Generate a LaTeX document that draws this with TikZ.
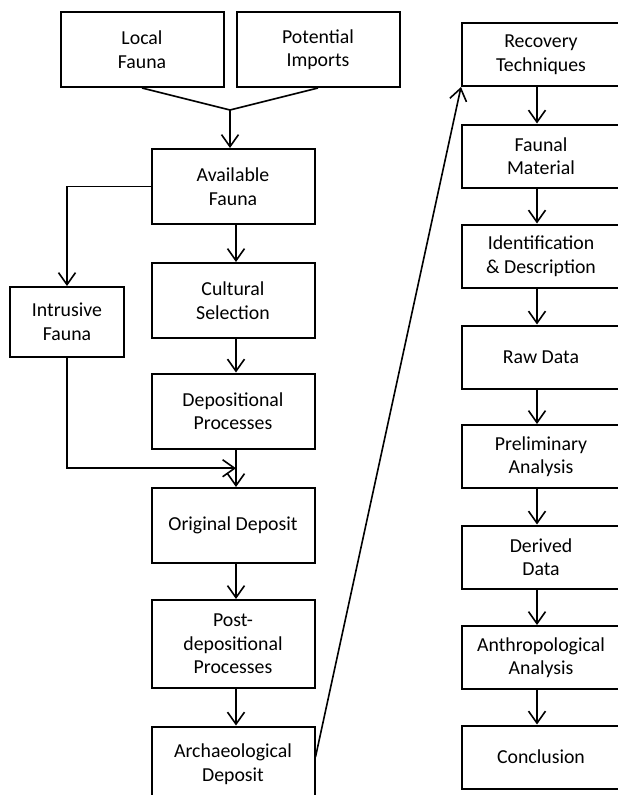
\documentclass[tikz,border=0pt]{standalone}
\usepackage{fontspec}
\setmainfont{Carlito}
\usetikzlibrary{arrows.meta,calc}

\tikzset{
  stage/.style={draw, line width=2pt, align=center, inner sep=0pt,
    minimum width=163pt, minimum height=75pt,
    font=\fontsize{19.8}{23.5}\selectfont},
  labstage/.style={stage, minimum width=158pt, minimum height=63pt},
  flow/.style={line width=1.6pt, -{Straight Barb[length=12pt,width=17pt]}},
  leftflow/.style={flow, transform canvas={xshift=3pt}},
  labflow/.style={flow, transform canvas={xshift=-4pt}},
}

\begin{document}
\begin{tikzpicture}[x=1pt,y=-1pt]
        \useasboundingbox (0,0) rectangle (618,795);

        % Left column: from the living fauna to the deposit
        \node[stage] (local) at (142,49.5) {Local\\Fauna};
        \node[stage] (imports) at (318,49.5) {Potential\\Imports};
        \node[stage] (avail) at (233,186.5) {Available\\Fauna};
        \node[stage, minimum width=114pt, minimum height=70pt] (intrusive) at (67,322) {Intrusive\\Fauna};
        \node[stage] (cultural) at (233,300.5) {Cultural\\Selection};
        \node[stage] (depos) at (233,411) {Depositional\\Processes};
        \node[stage] (original) at (233,525.5) {Original Deposit};
        \node[stage, minimum height=88pt] (postdep) at (233,644) {Post-\\depositional\\Processes};
        \node[stage] (archdep) at (233,764) {Archaeological\\Deposit};

        % Right column: what happens in the lab
        \node[labstage] (recovery) at (541,54.5) {Recovery\\Techniques};
        \node[labstage] (faunal) at (541,156) {Faunal\\Material};
        \node[labstage] (ident) at (541,256) {Identification\\\& Description};
        \node[labstage] (raw) at (541,357) {Raw Data};
        \node[labstage] (prelim) at (541,456.5) {Preliminary\\Analysis};
        \node[labstage] (derived) at (541,557) {Derived\\Data};
        \node[labstage] (anthro) at (541,657.5) {Anthropological\\Analysis};
        \node[labstage] (concl) at (541,757) {Conclusion};

        % Merge the two sources
        \coordinate (merge) at ($(avail.north)+(-3,-38)$);
        \draw[line width=1.6pt] (local.south) -- (merge) -- (imports.south);
        \draw[flow] (merge) -- (merge |- avail.north);

        % Side branch for intrusive fauna
        \coordinate (join) at ($(depos.south)!0.5!(original.north)+(3,0)$);
        \draw[flow] (avail.west) -| (intrusive.north);
        \draw[flow] (intrusive.south) |- (join);

        % Left column arrows
        \draw[leftflow] (avail) -- (cultural);
        \draw[leftflow] (cultural) -- (depos);
        \draw[leftflow] (depos) -- (original);
        \draw[leftflow] (original) -- (postdep);
        \draw[leftflow] (postdep) -- (archdep);

        % Jump over to the lab side
        \draw[flow] ($(archdep.east)+(0,-7)$) -- (recovery.south west);

        % Right column arrows
        \draw[labflow] (recovery) -- (faunal);
        \draw[labflow] (faunal) -- (ident);
        \draw[labflow] (ident) -- (raw);
        \draw[labflow] (raw) -- (prelim);
        \draw[labflow] (prelim) -- (derived);
        \draw[labflow] (derived) -- (anthro);
        \draw[labflow] (anthro) -- (concl);
\end{tikzpicture}
\end{document}
